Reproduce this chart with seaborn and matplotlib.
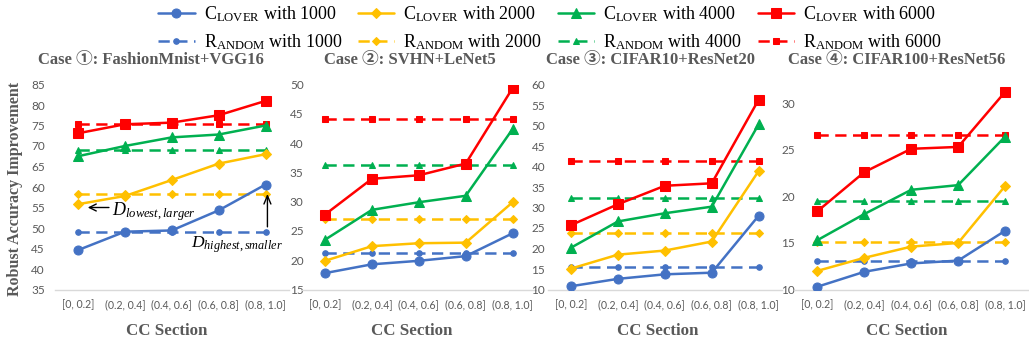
import numpy as np
import pandas as pd
import matplotlib
matplotlib.use("Agg")
import matplotlib.pyplot as plt
from matplotlib.patches import FancyArrowPatch
import seaborn as sns

# ---------------- data ----------------
sections = ["[0, 0.2]", "(0.2, 0.4]", "(0.4, 0.6]", "(0.6, 0.8]", "(0.8, 1.0]"]
titles = ["Case \u2460: FashionMnist+VGG16", "Case \u2461: SVHN+LeNet5",
          "Case \u2462: CIFAR10+ResNet20", "Case \u2463: CIFAR100+ResNet56"]
budgets = ["1000", "2000", "4000", "6000"]

# Case 1
c1_clover_1000 = [44.6, 49.1, 49.4, 54.3, 60.6]
c1_clover_2000 = [55.8, 57.8, 61.7, 65.7, 68.0]
c1_clover_4000 = [67.5, 70.0, 72.1, 72.8, 75.0]
c1_clover_6000 = [73.1, 75.3, 75.7, 77.5, 81.0]
c1_random_1000 = [49.1, 49.1, 49.1, 49.1, 49.1]
c1_random_2000 = [58.2, 58.2, 58.2, 58.2, 58.2]
c1_random_4000 = [69.1, 69.1, 69.1, 69.1, 69.1]
c1_random_6000 = [75.3, 75.3, 75.3, 75.3, 75.3]
# Case 2
c2_clover_1000 = [17.8, 19.3, 19.9, 20.7, 24.6]
c2_clover_2000 = [19.9, 22.4, 22.9, 23.0, 29.9]
c2_clover_4000 = [23.5, 28.6, 29.9, 31.0, 42.4]
c2_clover_6000 = [27.8, 33.9, 34.5, 36.5, 49.4]
c2_random_1000 = [21.2, 21.2, 21.2, 21.2, 21.2]
c2_random_2000 = [27.0, 27.0, 27.0, 27.0, 27.0]
c2_random_4000 = [36.2, 36.2, 36.2, 36.2, 36.2]
c2_random_6000 = [44.1, 44.1, 44.1, 44.1, 44.1]
# Case 3
c3_clover_1000 = [10.8, 12.6, 13.7, 14.1, 28.0]
c3_clover_2000 = [15.1, 18.5, 19.5, 21.7, 38.9]
c3_clover_4000 = [20.2, 26.6, 28.6, 30.2, 50.3]
c3_clover_6000 = [25.7, 30.8, 35.3, 35.9, 56.3]
c3_random_1000 = [15.6, 15.6, 15.6, 15.6, 15.6]
c3_random_2000 = [23.7, 23.7, 23.7, 23.7, 23.7]
c3_random_4000 = [32.2, 32.2, 32.2, 32.2, 32.2]
c3_random_6000 = [41.4, 41.4, 41.4, 41.4, 41.4]
# Case 4
c4_clover_1000 = [10.3, 11.9, 12.8, 13.1, 16.3]
c4_clover_2000 = [12.0, 13.4, 14.6, 15.0, 21.1]
c4_clover_4000 = [15.3, 18.1, 20.7, 21.2, 26.4]
c4_clover_6000 = [18.4, 22.6, 25.1, 25.3, 31.2]
c4_random_1000 = [13.1, 13.1, 13.1, 13.1, 13.1]
c4_random_2000 = [15.1, 15.1, 15.1, 15.1, 15.1]
c4_random_4000 = [19.5, 19.5, 19.5, 19.5, 19.5]
c4_random_6000 = [26.6, 26.6, 26.6, 26.6, 26.6]

clover = [
    [c1_clover_1000, c1_clover_2000, c1_clover_4000, c1_clover_6000],
    [c2_clover_1000, c2_clover_2000, c2_clover_4000, c2_clover_6000],
    [c3_clover_1000, c3_clover_2000, c3_clover_4000, c3_clover_6000],
    [c4_clover_1000, c4_clover_2000, c4_clover_4000, c4_clover_6000],
]
random_ = [
    [c1_random_1000, c1_random_2000, c1_random_4000, c1_random_6000],
    [c2_random_1000, c2_random_2000, c2_random_4000, c2_random_6000],
    [c3_random_1000, c3_random_2000, c3_random_4000, c3_random_6000],
    [c4_random_1000, c4_random_2000, c4_random_4000, c4_random_6000],
]
ylims = [(35, 85), (15, 50), (10, 60), (10, 32)]
yticks = [np.arange(35, 86, 5), np.arange(15, 51, 5), np.arange(10, 61, 5), np.arange(10, 31, 5)]

# ---------------- style ----------------
sns.set_theme(style="white")
plt.rcParams["font.family"] = ["Liberation Serif", "Noto Sans CJK SC", "DejaVu Sans"]
plt.rcParams["mathtext.fontset"] = "custom"
plt.rcParams["mathtext.rm"] = "Liberation Serif"
plt.rcParams["mathtext.it"] = "Liberation Serif:italic"
plt.rcParams["mathtext.bf"] = "Liberation Serif:bold"

colors = ["#4472C4", "#FFC000", "#00B050", "#FF0000"]
markers = ["o", "D", "^", "s"]
solid_ms = [6.5, 5.5, 6.5, 6.5]
dash_ms = [4.0, 3.8, 4.5, 4.2]
gray = "#595959"

W, H = 1029, 347
fig = plt.figure(figsize=(W / 100, H / 100), dpi=100)

lefts = [54.5, 301.6, 547.6, 794.0]
aw = 234.5
top_px, bot_px = 84.5, 289.5
title_x = [151, 410, 651, 897]
xlabel_x = [167, 412, 658, 907]
ypads = [7.0, -1.5, 1.8, -0.6]

xs = np.arange(len(sections))
handles = []
for i in range(4):
    ax = fig.add_axes([lefts[i] / W, (H - bot_px) / H, aw / W, (bot_px - top_px) / H])
    for j in range(4):
        sns.lineplot(x=xs, y=random_[i][j], ax=ax, color=colors[j], marker=markers[j],
                     markersize=dash_ms[j], markeredgecolor=colors[j], linewidth=1.8,
                     linestyle=(0, (4.5, 2.6)), legend=False, zorder=2)
    for j in range(4):
        sns.lineplot(x=xs, y=clover[i][j], ax=ax, color=colors[j], marker=markers[j],
                     markersize=solid_ms[j], markeredgecolor=colors[j], linewidth=1.8,
                     legend=False, zorder=3)
    if i == 0:
        lines = ax.get_lines()
        # order column-major for a 4-column legend: clover row then random row
        for j in range(4):
            handles.append((lines[4 + j], r"C$_{\mathrm{LOVER}}$ with " + budgets[j]))
            handles.append((lines[j], r"R$_{\mathrm{ANDOM}}$ with " + budgets[j]))
    ax.set_xlim(-0.5, 4.5)
    ax.set_ylim(*ylims[i])
    ax.set_yticks(yticks[i])
    ax.set_xticks(xs)
    ax.set_xticklabels(sections, fontsize=7.6, color=gray, family="Lato")
    for lab in ax.get_yticklabels():
        lab.set_fontsize(8.5)
        lab.set_color(gray)
        lab.set_family("Lato")
    ax.tick_params(axis="both", length=0)
    ax.tick_params(axis="x", pad=7)
    ax.tick_params(axis="y", pad=ypads[i])
    for s in ["left", "top", "right"]:
        ax.spines[s].set_visible(False)
    ax.spines["bottom"].set_color("#D9D9D9")
    ax.spines["bottom"].set_linewidth(1.0)
    ax.set_xlabel("")
    ax.set_ylabel("")
    ax.grid(False)
    fig.text(title_x[i] / W, (H - 60) / H, titles[i], ha="center", va="center",
             fontsize=12, fontweight="bold", color=gray,
             family=["Liberation Serif", "Noto Sans CJK SC", "DejaVu Sans"])
    fig.text(xlabel_x[i] / W, (H - 331) / H, "CC Section", ha="center", va="center",
             fontsize=12.2, fontweight="bold", color=gray)

    if i == 0:
        ax.add_patch(FancyArrowPatch((0.72, 55.0), (0.15, 55.0),
                                     arrowstyle="->,head_length=5,head_width=2.5",
                                     color="black", lw=1.0, zorder=5))
        ax.text(0.72, 53.0, r"$D_{lowest,larger}$", fontsize=13, ha="left",
                va="baseline", color="black")
        ax.add_patch(FancyArrowPatch((4.04, 49.6), (4.04, 59.0),
                                     arrowstyle="->,head_length=6,head_width=2.5",
                                     color="black", lw=1.0, zorder=5))
        ax.text(2.42, 45.2, r"$D_{highest,smaller}$", fontsize=12.6, ha="left",
                va="baseline", color="black")

fig.text(15 / W, (H - 189) / H, "Robust Accuracy Improvement", rotation=90,
         ha="center", va="center", fontsize=11.5, fontweight="bold", color=gray)

leg = fig.legend([h for h, _ in handles], [l for _, l in handles], ncol=4,
                 loc="upper center", bbox_to_anchor=(550 / W, 1.035), frameon=False,
                 fontsize=13, handlelength=2.0, columnspacing=0.9, handletextpad=0.5,
                 labelspacing=0.45)
for t in leg.get_texts():
    t.set_color("black")

fig.savefig("out.png", dpi=100)
